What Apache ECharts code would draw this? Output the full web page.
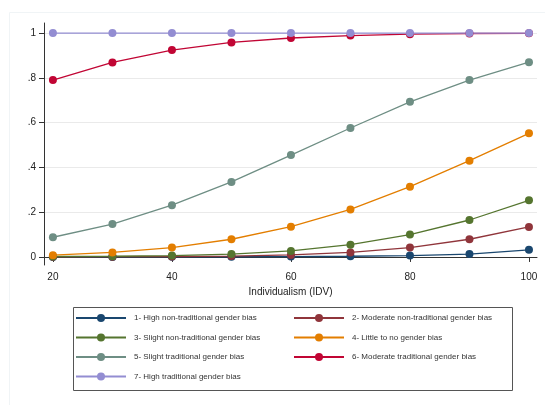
<!DOCTYPE html>
<html>
<head>
<meta charset="utf-8">
<script src="https://cdn.jsdelivr.net/npm/echarts@6/dist/echarts.min.js"></script>
<style>html,body{margin:0;padding:0;background:#fff}#c{width:545px;height:405px}</style>
</head>
<body>
<div id="c"></div>
<script>
const idv = [20, 30, 40, 50, 60, 70, 80, 90, 100];
const seriesNames = [
  "1- High non-traditional gender bias",
  "2- Moderate non-traditional gender bias",
  "3- Slight non-traditional gender bias",
  "4- Little to no gender bias",
  "5- Slight traditional gender bias",
  "6- Moderate traditional gender bias",
  "7- High traditional gender bias"
];
const s1 = [0.0001, 0.0002, 0.0004, 0.0008, 0.0016, 0.003, 0.006, 0.013, 0.032];
const s2 = [0.0005, 0.001, 0.002, 0.004, 0.009, 0.02, 0.042, 0.079, 0.134];
const s3 = [0.002, 0.003, 0.006, 0.013, 0.027, 0.055, 0.1, 0.165, 0.253];
const s4 = [0.008, 0.02, 0.042, 0.079, 0.135, 0.212, 0.314, 0.43, 0.552];
const s5 = [0.088, 0.147, 0.231, 0.335, 0.455, 0.576, 0.693, 0.79, 0.87];
const s6 = [0.79, 0.869, 0.924, 0.958, 0.978, 0.989, 0.995, 0.998, 0.999];
const s7 = [1, 1, 1, 1, 1, 1, 1, 1, 1];
const allValues = [s1, s2, s3, s4, s5, s6, s7];
const yTicks = [0, 0.2, 0.4, 0.6, 0.8, 1];
const xTicks = [20, 40, 60, 80, 100];
const colors = ["#1a476f", "#90353b", "#55752f", "#e37e00", "#6e8e84", "#c10534", "#938dd2"];

const font = "Liberation Sans, Arial, sans-serif";
const series = allValues.map((vals, i) => ({
  name: seriesNames[i],
  type: "line",
  data: vals.map((v, j) => [idv[j], v]),
  symbol: "circle",
  symbolSize: 8,
  showSymbol: true,
  lineStyle: { color: colors[i], width: 1.3 },
  itemStyle: { color: colors[i] },
  animation: false
}));

function fmtY(v) {
  if (v === 0) return "0";
  if (v === 1) return "1";
  return String(+v.toFixed(1)).replace(/^0/, "");
}

const legendText = { fontFamily: font, fontSize: 8, color: "#333", padding: [0, 0, 0, 3], lineHeight: 10 };
const chart = echarts.init(document.getElementById("c"), null, { renderer: "canvas" });
chart.setOption({
  backgroundColor: "#ffffff",
  animation: false,
  color: colors,
  grid: { left: 44, right: 8, top: 23, bottom: 140, containLabel: false },
  xAxis: {
    type: "value",
    min: 18.5,
    max: 101.35,
    name: "Individualism (IDV)",
    nameLocation: "middle",
    nameGap: 22,
    nameTextStyle: { fontFamily: font, fontSize: 10, color: "#222" },
    axisLine: { show: true, lineStyle: { color: "#333", width: 1 } },
    axisTick: { show: true, length: 5, lineStyle: { color: "#333" }, customValues: xTicks },
    axisLabel: { fontFamily: font, fontSize: 10, color: "#222", margin: 7, customValues: xTicks },
    splitLine: { show: false }
  },
  yAxis: {
    type: "value",
    min: -0.036,
    max: 1.045,
    axisLine: { show: true, lineStyle: { color: "#333", width: 1 } },
    axisTick: { show: true, length: 5, lineStyle: { color: "#333" }, customValues: yTicks },
    axisLabel: { fontFamily: font, fontSize: 10, color: "#222", margin: 8, customValues: yTicks, formatter: fmtY },
    splitLine: { show: true, lineStyle: { color: "#eaeaea", width: 1 } }
  },
  legend: [
    {
      orient: "vertical",
      left: 75,
      top: 313,
      padding: 0,
      itemWidth: 50,
      itemHeight: 10,
      itemGap: 9.5,
      data: [seriesNames[0], seriesNames[2], seriesNames[4], seriesNames[6]],
      textStyle: legendText
    },
    {
      orient: "vertical",
      left: 293,
      top: 313,
      padding: 0,
      itemWidth: 50,
      itemHeight: 10,
      itemGap: 9.5,
      data: [seriesNames[1], seriesNames[3], seriesNames[5]],
      textStyle: legendText
    }
  ],
  graphic: [
    { type: "rect", left: 7, top: 10, shape: { width: 540, height: 400 }, style: { fill: "none", stroke: "#f0f4f6", lineWidth: 1 }, silent: true, z: -1 },
    { type: "rect", left: 71, top: 305, shape: { width: 439, height: 83 }, style: { fill: "none", stroke: "#555", lineWidth: 1 }, silent: true }
  ],
  series: series
});
</script>
</body>
</html>
